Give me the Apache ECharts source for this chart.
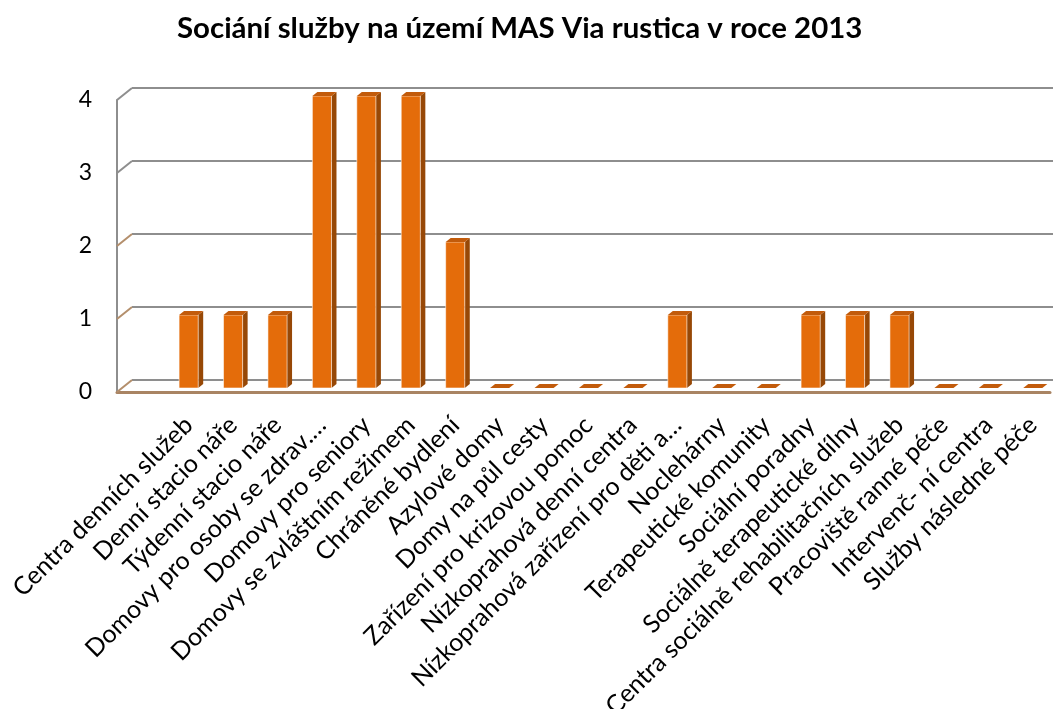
<!DOCTYPE html>
<html><head><meta charset="utf-8">
<script src="https://cdn.jsdelivr.net/npm/echarts@6/dist/echarts.min.js"></script>
<style>html,body{margin:0;padding:0;background:#fff}#c{width:1053px;height:709px}</style>
</head><body><div id="c"></div>
<script>
const chartTitle = 'Sociání služby na území MAS Via rustica v roce 2013';
const categories = ['', 'Centra denních služeb', 'Denní stacio náře', 'Týdenní stacio náře',
  'Domovy pro osoby se zdrav.…', 'Domovy pro seniory', 'Domovy se zvláštním režimem',
  'Chráněné bydlení', 'Azylové domy', 'Domy na půl cesty', 'Zařízení pro krizovou pomoc',
  'Nízkoprahová denní centra', 'Nízkoprahová zařízení pro děti a…', 'Noclehárny',
  'Terapeutické komunity', 'Sociální poradny', 'Sociálně terapeutické dílny',
  'Centra sociálně rehabilitačních služeb', 'Pracoviště ranné péče', 'Intervenč- ní centra',
  'Služby následné péče'];
const values = [null, 1, 1, 1, 4, 4, 4, 2, 0, 0, 0, 0, 1, 0, 0, 1, 1, 1, 0, 0, 0];
const yTicks = [0, 1, 2, 3, 4];

const FONT = 'Lato';
const DX = 5, DY = 4;          // bar depth offset
const FRONT = [-5, 4], BACK = [10, -8];  // wall offsets from bar plane

const chart = echarts.init(document.getElementById('c'), null, {renderer: 'canvas'});

const barData = [];
values.forEach((v, i) => { if (v !== null) barData.push([i, v]); });

const gridBase = {width: 933, height: 292, containLabel: false, outerBoundsMode: 'none'};

const option = {
  backgroundColor: '#fff',
  animation: false,
  title: {
    text: chartTitle, left: 177, top: 14, padding: 0,
    textStyle: {fontFamily: FONT, fontWeight: 'bold', fontSize: 29.4, color: '#000'}
  },
  grid: [
    Object.assign({left: 122, top: 96}, gridBase),   // bar plane
    Object.assign({left: 132, top: 88}, gridBase),   // back wall
    Object.assign({left: 117, top: 100}, gridBase)   // front plane
  ],
  xAxis: [
    {gridIndex: 0, type: 'category', data: categories,
     axisLine: {show: false}, axisTick: {show: false},
     axisLabel: {interval: 0, rotate: 45, margin: 33, fontFamily: FONT, fontSize: 25, color: '#000'}},
    {gridIndex: 1, type: 'category', data: categories, show: false},
    {gridIndex: 2, type: 'category', data: categories,
     axisLine: {show: true, lineStyle: {color: '#a98463', width: 3}},
     axisTick: {show: false}, axisLabel: {show: false}}
  ],
  yAxis: [
    {gridIndex: 0, type: 'value', min: 0, max: 4, interval: 1, show: false},
    {gridIndex: 1, type: 'value', min: 0, max: 4, interval: 1,
     axisLine: {show: false}, axisTick: {show: false}, axisLabel: {show: false},
     splitLine: {show: true, lineStyle: {color: '#8e8e8e', width: 2}}},
    {gridIndex: 2, type: 'value', min: 0, max: 4, interval: 1,
     axisLine: {show: true, lineStyle: {color: '#8e8e8e', width: 2}},
     axisTick: {show: false}, splitLine: {show: false},
     axisLabel: {margin: 25, fontFamily: FONT, fontSize: 23, color: '#000'}}
  ],
  series: [
    {
      type: 'custom', xAxisIndex: 0, yAxisIndex: 0, z: 3,
      data: yTicks.map(v => [0, v]),
      renderItem: function (params, api) {
        const c = api.coord([0, api.value(1)]);
        const band = api.size([1, 0])[0];
        const x0 = c[0] - band / 2;
        return {
          type: 'line',
          shape: {x1: x0 + FRONT[0], y1: c[1] + FRONT[1], x2: x0 + BACK[0], y2: c[1] + BACK[1]},
          style: {stroke: api.value(1) <= 2 ? '#b48f6c' : '#8e8e8e', lineWidth: 2}
        };
      }
    },
    {
      type: 'custom', xAxisIndex: 0, yAxisIndex: 0, z: 5,
      data: barData,
      renderItem: function (params, api) {
        const idx = api.value(0), v = api.value(1);
        const base = api.coord([idx, 0]);
        const top = api.coord([idx, v]);
        const w = api.size([1, 0])[0] * 0.43;
        const x1 = base[0] - w / 2, x2 = base[0] + w / 2;
        const children = [];
        if (v > 0) {
          children.push({type: 'polygon', shape: {points: [[x2, top[1]], [x2 + DX, top[1] - DY], [x2 + DX, base[1] - DY], [x2, base[1]]]},
            style: {fill: '#974806'}});
          children.push({type: 'rect', shape: {x: x1, y: top[1], width: w, height: base[1] - top[1]},
            style: {fill: '#e46c0a', stroke: 'rgba(255,255,255,0.55)', lineWidth: 1}});
        }
        children.push({type: 'polygon', shape: {points: [[x1, top[1]], [x1 + DX, top[1] - DY], [x2 + DX, top[1] - DY], [x2, top[1]]]},
          style: {fill: '#c25b0b'}});
        return {type: 'group', children: children};
      }
    }
  ]
};
chart.setOption(option);
</script>
</body></html>
